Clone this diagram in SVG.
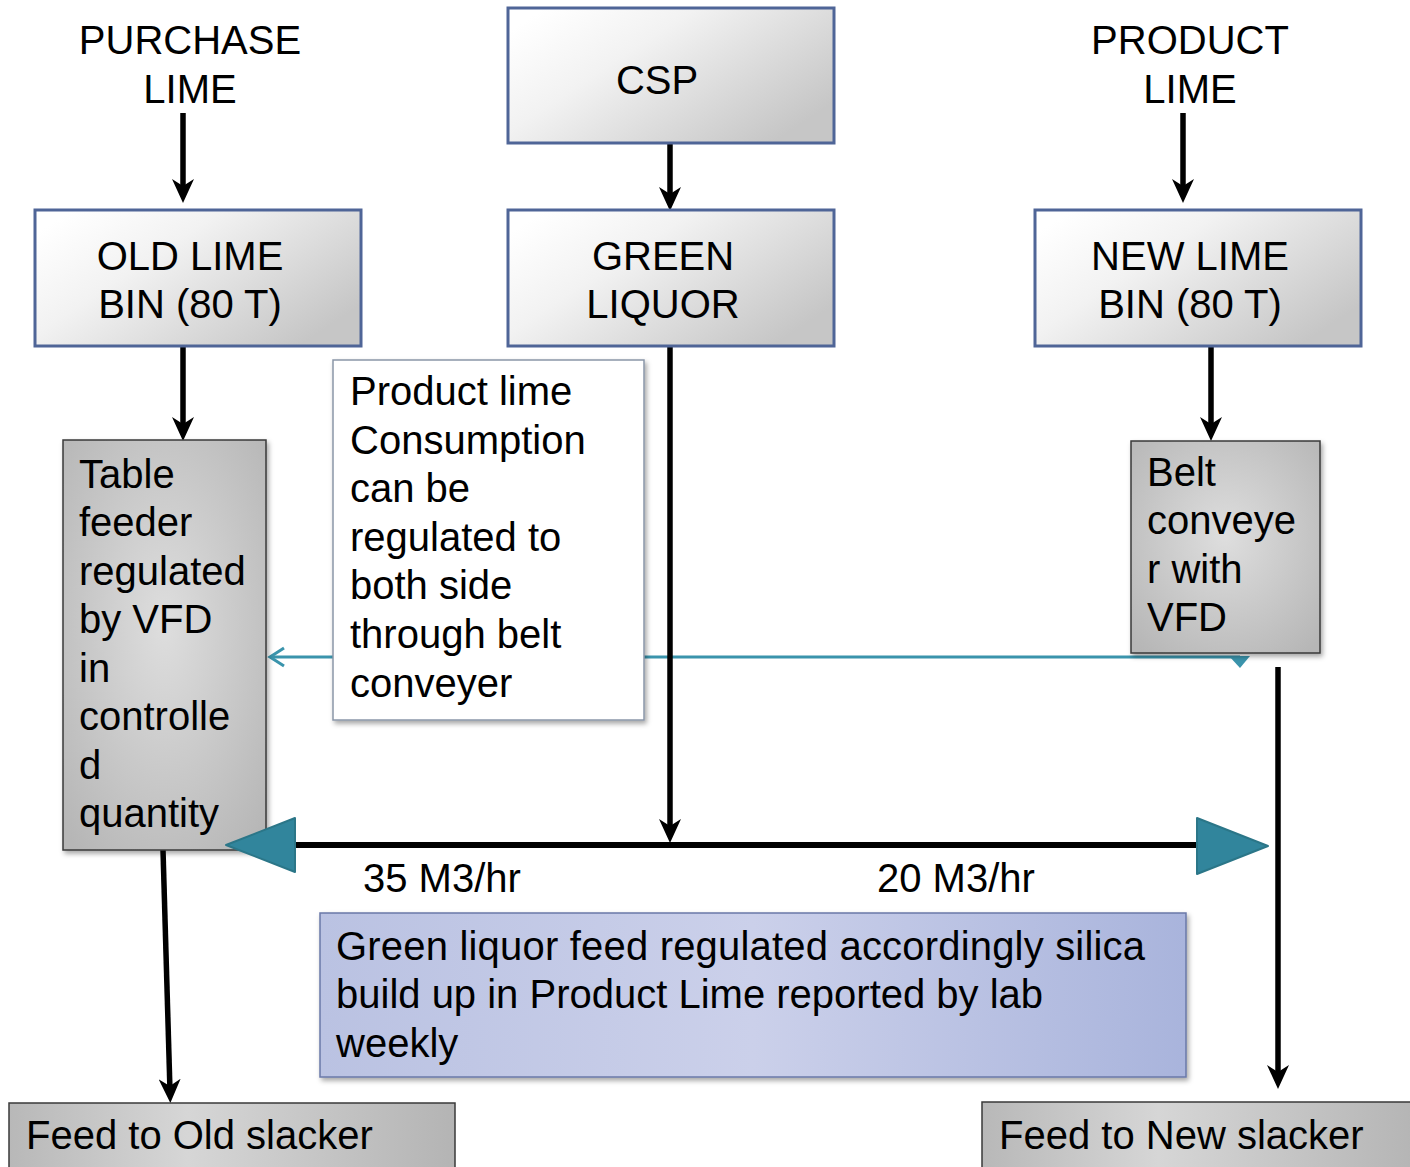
<svg xmlns="http://www.w3.org/2000/svg" width="1410" height="1167" viewBox="0 0 1410 1167">
<defs>
<style>
text{font-family:"Liberation Sans",Arial,sans-serif;font-size:40px;fill:#000}
.ctr{text-anchor:middle}
.top{stroke:#4f6597;stroke-width:3}
.gray{stroke:#3a3a3a;stroke-width:1.5}
.blk{stroke:#000;stroke-width:5.5;fill:none}
.tri{fill:#31859c;stroke:#2b7688;stroke-width:2;stroke-linejoin:round}
</style>
<linearGradient id="gTop" x1="0.05" y1="0.1" x2="1" y2="0.7">
<stop offset="0" stop-color="#ffffff"/>
<stop offset="0.35" stop-color="#f2f2f2"/>
<stop offset="1" stop-color="#c6c6c6"/>
</linearGradient>
<radialGradient id="gGray" cx="0.5" cy="0.45" r="0.7">
<stop offset="0" stop-color="#dedede"/>
<stop offset="1" stop-color="#b6b6b6"/>
</radialGradient>
<linearGradient id="gBot" x1="0" y1="0" x2="1" y2="0">
<stop offset="0" stop-color="#b8b8b8"/>
<stop offset="0.4" stop-color="#d6d6d6"/>
<stop offset="1" stop-color="#b4b4b4"/>
</linearGradient>
<linearGradient id="gBlue" x1="0" y1="0" x2="1" y2="0">
<stop offset="0" stop-color="#bac2e2"/>
<stop offset="0.5" stop-color="#cbd0ea"/>
<stop offset="1" stop-color="#a9b4dc"/>
</linearGradient>
<filter id="sh" x="-10%" y="-10%" width="125%" height="125%">
<feDropShadow dx="2" dy="3" stdDeviation="2.5" flood-color="#000" flood-opacity="0.35"/>
</filter>
<marker id="ah" viewBox="0 0 24 22" refX="12" refY="11" markerWidth="24" markerHeight="22" markerUnits="userSpaceOnUse" orient="auto">
<path d="M0,0 L24,11 L0,22 L7,11 z" fill="#000"/>
</marker>
<marker id="chev" viewBox="0 0 20 24" refX="17" refY="12" markerWidth="20" markerHeight="24" markerUnits="userSpaceOnUse" orient="auto">
<path d="M3,3 L17,12 L3,21" fill="none" stroke="#3a94ac" stroke-width="3"/>
</marker>
</defs>

<g id="connectors">
<line class="blk" x1="183" y1="113" x2="183" y2="191" marker-end="url(#ah)"/>
<line class="blk" x1="670" y1="143" x2="670" y2="199" marker-end="url(#ah)"/>
<line class="blk" x1="1183" y1="113" x2="1183" y2="191" marker-end="url(#ah)"/>
<line class="blk" x1="183" y1="346" x2="183" y2="429" marker-end="url(#ah)"/>
<line class="blk" x1="1211" y1="346" x2="1211" y2="429" marker-end="url(#ah)"/>
<line x1="1240" y1="657" x2="270" y2="657" stroke="#3a94ac" stroke-width="3" marker-end="url(#chev)"/>
<polygon points="1229,656 1250,656 1240,668" fill="#3a94ac"/>
<line class="blk" x1="670" y1="346" x2="670" y2="831" marker-end="url(#ah)"/>
<line stroke="#000" stroke-width="6" x1="290" y1="845" x2="1202" y2="845"/>
<line class="blk" x1="1278" y1="667" x2="1278" y2="1077" marker-end="url(#ah)"/>
<line class="blk" x1="163" y1="850" x2="170" y2="1091" marker-end="url(#ah)"/>
</g>

<g id="purchase-lime">
<text class="ctr" x="190" y="54">PURCHASE</text>
<text class="ctr" x="190" y="103">LIME</text>
</g>
<g id="product-lime">
<text class="ctr" x="1190" y="54">PRODUCT</text>
<text class="ctr" x="1190" y="103">LIME</text>
</g>

<g id="csp">
<rect class="top" x="508" y="8" width="326" height="135" fill="url(#gTop)"/>
<text class="ctr" x="657" y="94">CSP</text>
</g>
<g id="old-lime-bin">
<rect class="top" x="35" y="210" width="326" height="136" fill="url(#gTop)"/>
<text class="ctr" x="190" y="270">OLD LIME</text>
<text class="ctr" x="190" y="318">BIN (80 T)</text>
</g>
<g id="green-liquor">
<rect class="top" x="508" y="210" width="326" height="136" fill="url(#gTop)"/>
<text class="ctr" x="663" y="270">GREEN</text>
<text class="ctr" x="663" y="318">LIQUOR</text>
</g>
<g id="new-lime-bin">
<rect class="top" x="1035" y="210" width="326" height="136" fill="url(#gTop)"/>
<text class="ctr" x="1190" y="270">NEW LIME</text>
<text class="ctr" x="1190" y="318">BIN (80 T)</text>
</g>

<g id="table-feeder">
<rect class="gray" x="63" y="440" width="203" height="410" fill="url(#gGray)" filter="url(#sh)"/>
<text x="79" y="488">Table</text>
<text x="79" y="536">feeder</text>
<text x="79" y="585">regulated</text>
<text x="79" y="633">by VFD</text>
<text x="79" y="682">in</text>
<text x="79" y="730">controlle</text>
<text x="79" y="779">d</text>
<text x="79" y="827">quantity</text>
</g>

<g id="note-product-lime">
<rect x="333" y="360" width="311" height="360" fill="#fff" stroke="#8a96a8" stroke-width="1.5" filter="url(#sh)"/>
<text x="350" y="405">Product lime</text>
<text x="350" y="454">Consumption</text>
<text x="350" y="502">can be</text>
<text x="350" y="551">regulated to</text>
<text x="350" y="599">both side</text>
<text x="350" y="648">through belt</text>
<text x="350" y="697">conveyer</text>
</g>

<g id="belt-conveyer">
<rect class="gray" x="1131" y="441" width="189" height="212" fill="url(#gGray)" filter="url(#sh)"/>
<text x="1147" y="486">Belt</text>
<text x="1147" y="534">conveye</text>
<text x="1147" y="583">r with</text>
<text x="1147" y="631">VFD</text>
</g>

<g id="split-arrows">
<polygon class="tri" points="226,845 295,818 295,872"/>
<polygon class="tri" points="1268,846 1197,818 1197,874"/>
<text x="363" y="892">35 M3/hr</text>
<text x="877" y="892">20 M3/hr</text>
</g>

<g id="note-green-liquor">
<rect x="320" y="913" width="866" height="164" fill="url(#gBlue)" stroke="#6a78a8" stroke-width="1.5" filter="url(#sh)"/>
<text x="336" y="960" textLength="809" lengthAdjust="spacing">Green liquor feed regulated accordingly silica</text>
<text x="336" y="1008">build up in Product Lime reported by lab</text>
<text x="336" y="1057">weekly</text>
</g>

<g id="feed-old-slacker">
<rect class="gray" x="9" y="1103" width="446" height="70" fill="url(#gBot)"/>
<text x="26" y="1149">Feed to Old slacker</text>
</g>
<g id="feed-new-slacker">
<rect class="gray" x="982" y="1102" width="440" height="70" fill="url(#gBot)"/>
<text x="999" y="1149">Feed to New slacker</text>
</g>
</svg>
